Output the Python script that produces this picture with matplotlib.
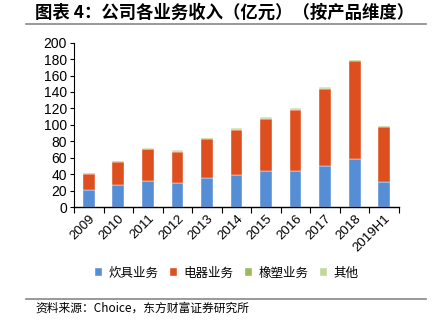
import matplotlib
matplotlib.use("Agg")
import matplotlib.pyplot as plt
import numpy as np

plt.rcParams['font.family'] = ['Liberation Sans', 'Noto Sans CJK SC', 'DejaVu Sans']

years = ["2009", "2010", "2011", "2012", "2013", "2014", "2015", "2016", "2017", "2018", "2019H1"]
cookware = [20.3, 27.2, 31.6, 29.6, 35.7, 39.0, 43.8, 43.4, 49.5, 58.4, 30.4]
appliance = [19.5, 27.2, 38.6, 37.7, 46.7, 54.7, 63.7, 75.1, 94.5, 118.9, 67.0]
rubber = [1.0, 1.2, 1.0, 1.2, 1.0, 1.2, 1.3, 1.0, 1.2, 1.2, 0.8]
other = [0.3, 0.4, 0.6, 0.9, 0.6, 0.9, 0.8, 1.0, 0.8, 0.8, 0.4]

series = [
    ("炊具业务", cookware, "#558ED5"),
    ("电器业务", appliance, "#DD4F1E"),
    ("橡塑业务", rubber, "#9BBB59"),
    ("其他", other, "#C3D69B"),
]

fig = plt.figure(figsize=(4.44, 3.31), dpi=100)
ax = fig.add_axes([0.1667, 0.3746, 0.7319, 0.4964])

x = np.arange(len(years))
bottom = np.zeros(len(years))
handles = []
for name, vals, color in series:
    b = ax.bar(x, vals, width=0.4, bottom=bottom, color=color, label=name,
               edgecolor="white", linewidth=0.3)
    handles.append(b)
    bottom += np.array(vals)

ax.set_xlim(-0.5, len(years) - 0.5)
ax.set_ylim(0, 200)
ax.set_yticks(range(0, 201, 20))
ax.tick_params(axis='y', labelsize=10, length=3, width=0.8, direction='out', pad=2)
ax.set_xticks(x)
ax.set_xticklabels(years, rotation=45, ha='right', rotation_mode='anchor', fontsize=9.5)
ax.tick_params(axis='x', length=0, pad=4)
ax.set_xticks(np.arange(-0.5, len(years) + 0.5, 1), minor=True)
ax.tick_params(axis='x', which='minor', length=4, width=0.8, direction='out')
for s in ["top", "right"]:
    ax.spines[s].set_visible(False)
ax.spines["left"].set_linewidth(0.8)
ax.spines["bottom"].set_linewidth(1.0)

leg = fig.legend(handles=handles, labels=[s[0] for s in series], loc='center',
                 bbox_to_anchor=(0.51, 0.175), ncol=4, frameon=False,
                 handlelength=0.6, handleheight=0.6, handletextpad=0.5,
                 columnspacing=0.9,
                 prop={'family': ['Noto Sans CJK SC', 'DejaVu Sans'], 'size': 9})

fig.text(0.079, 0.961, "图表 4：公司各业务收入（亿元）（按产品维度）",
         fontsize=12.5, fontweight='bold', va='center', ha='left',
         family=['Noto Sans CJK SC', 'DejaVu Sans'])
fig.add_artist(plt.Line2D([0.058, 0.96], [0.927, 0.927], color="#888888", linewidth=1.2,
                          transform=fig.transFigure))
fig.add_artist(plt.Line2D([0.058, 0.96], [0.098, 0.098], color="#888888", linewidth=1.2,
                          transform=fig.transFigure))
fig.text(0.079, 0.068, "资料来源：Choice，东方财富证券研究所", fontsize=8.5,
         va='center', ha='left', family=['Noto Sans CJK SC', 'DejaVu Sans'])

fig.savefig("out.png", dpi=100)
